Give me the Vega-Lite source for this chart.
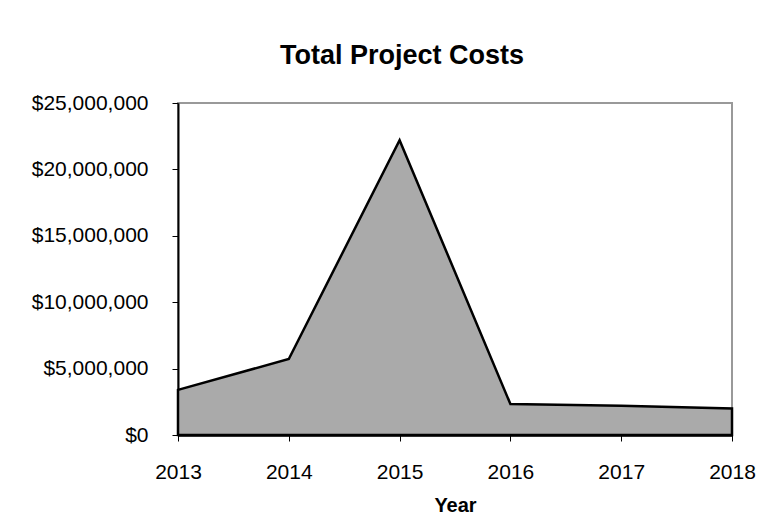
{
  "$schema": "https://vega.github.io/schema/vega-lite/v6.json",
  "width": 554,
  "height": 332,
  "autosize": {"type": "none"},
  "padding": {"left": 178, "top": 103, "right": 27, "bottom": 94},
  "background": "white",
  "title": {
    "text": "Total Project Costs",
    "font": "Liberation Sans",
    "fontSize": 27,
    "fontWeight": "bold",
    "color": "black",
    "anchor": "middle",
    "dx": -53,
    "offset": 22
  },
  "data": {
    "values": [
      {"year": 2013, "cost": 3400000},
      {"year": 2014, "cost": 5720000},
      {"year": 2015, "cost": 22200000},
      {"year": 2016, "cost": 2330000},
      {"year": 2017, "cost": 2200000},
      {"year": 2018, "cost": 2000000}
    ]
  },
  "mark": {"type": "area", "color": "#aaaaaa", "stroke": "black", "strokeWidth": 2.5, "opacity": 1},
  "encoding": {
    "x": {
      "field": "year",
      "type": "quantitative",
      "scale": {"domain": [2013, 2018], "nice": false, "zero": false},
      "axis": {
        "title": "Year",
        "format": "d",
        "values": [2013, 2014, 2015, 2016, 2017, 2018],
        "grid": false,
        "labelFlush": false,
        "labelPadding": 20,
        "titlePadding": 13,
        "titleFontSize": 20,
        "domainWidth": 2.5
      }
    },
    "y": {
      "field": "cost",
      "type": "quantitative",
      "scale": {"domain": [0, 25000000], "nice": false},
      "axis": {
        "title": null,
        "format": "$,.0f",
        "values": [0, 5000000, 10000000, 15000000, 20000000, 25000000],
        "grid": false,
        "labelFlush": false,
        "labelPadding": 24,
        "domainWidth": 2
      }
    }
  },
  "config": {
    "view": {"stroke": "#999999", "strokeWidth": 2},
    "axis": {
      "labelFont": "Liberation Sans",
      "labelFontSize": 21,
      "labelColor": "black",
      "titleFont": "Liberation Sans",
      "titleFontSize": 20,
      "titleFontWeight": "bold",
      "titleColor": "black",
      "domainColor": "black",
      "tickColor": "black",
      "tickSize": 6,
      "tickWidth": 1
    }
  }
}
